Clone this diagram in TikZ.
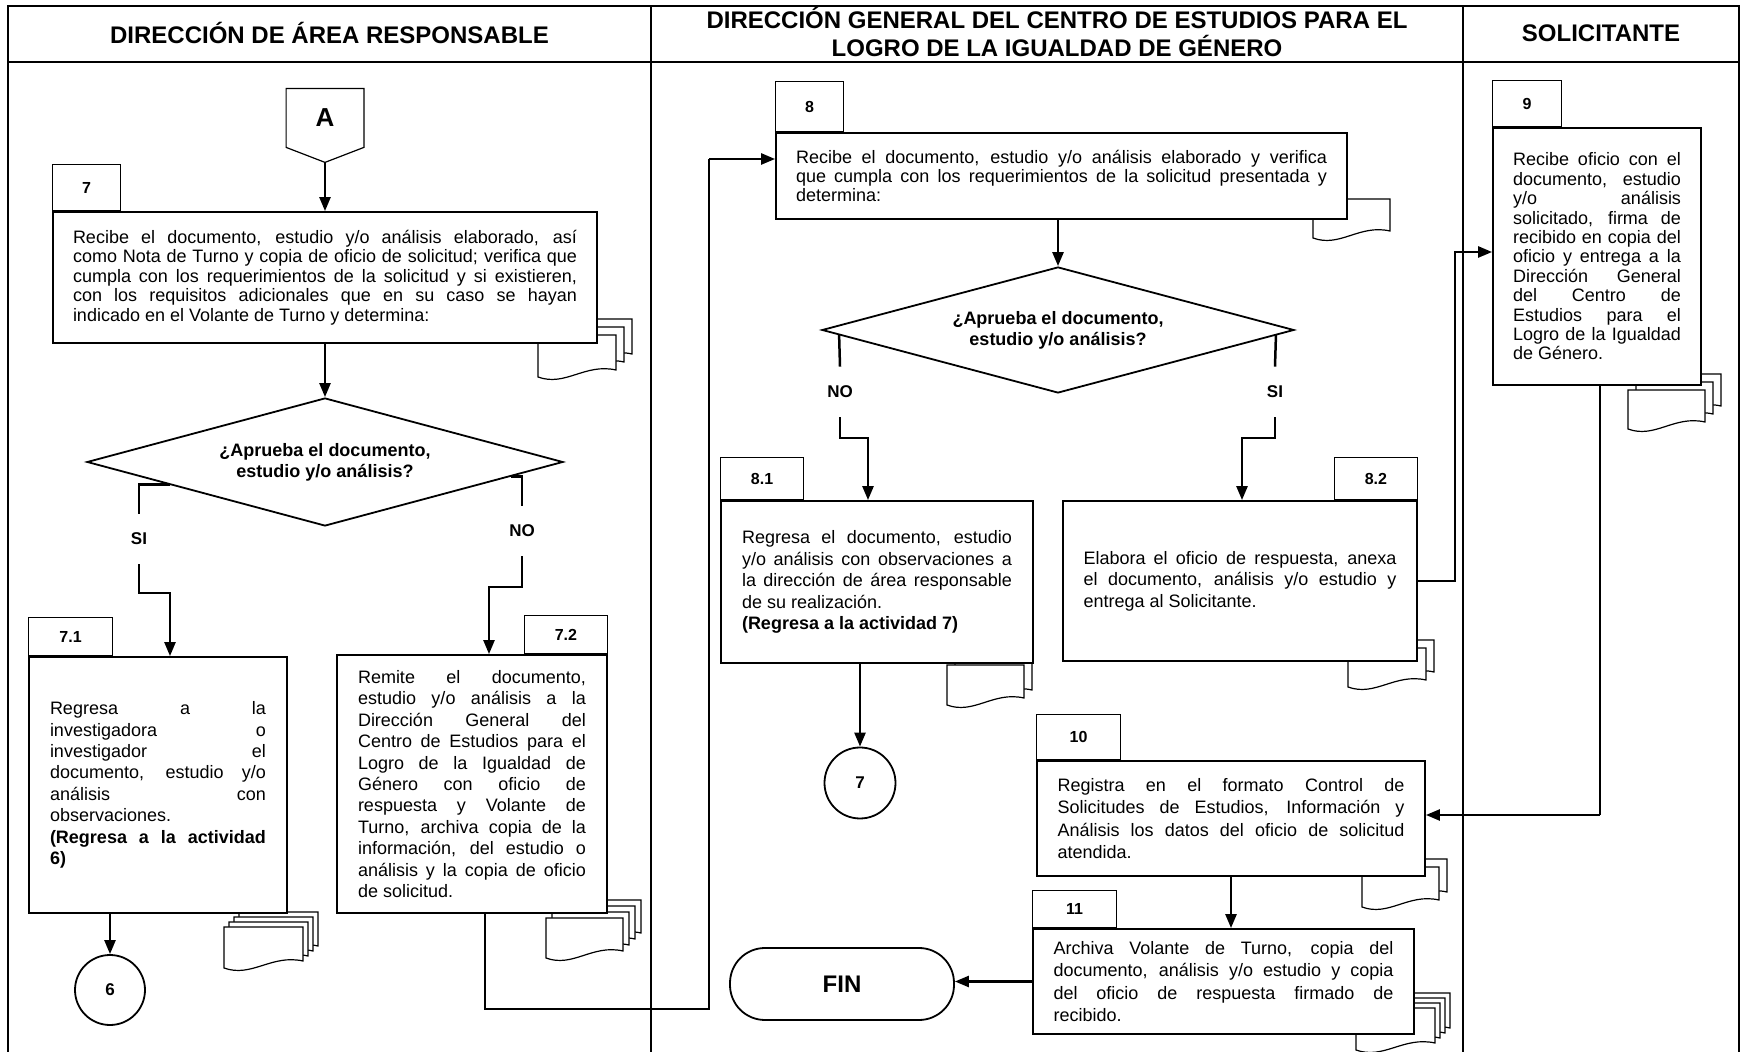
\documentclass[tikz,border=0pt]{standalone}
\usepackage{fontspec}
\setmainfont{Liberation Sans}
\usepackage{tikz}
\usetikzlibrary{shapes.geometric,arrows.meta,calc,positioning}
\setlength{\parindent}{0pt}
\tolerance=10000
\hbadness=10000
\hyphenpenalty=10000

\tikzstyle{line} = [draw, line width=1.25pt, -{Triangle[length=7pt,width=5.5pt]}]
\tikzstyle{wire} = [draw, line width=1.25pt]
\tikzstyle{thinwire} = [draw, line width=0.55pt]
\tikzstyle{block} = [draw, rectangle, fill=white, line width=0.9pt, align=justify, inner ysep=2pt]
\tikzstyle{bodytight} = [font=\fontsize{9}{9.7}\selectfont]
\tikzstyle{bodyloose} = [font=\fontsize{9}{10.7}\selectfont]
\tikzstyle{bodywide} = [font=\fontsize{9}{11.2}\selectfont]
\tikzstyle{tab} = [draw, rectangle, line width=0.5pt, inner sep=0pt, font=\bfseries\fontsize{8}{9}\selectfont]
\tikzstyle{decision} = [draw, diamond, fill=white, line width=0.9pt, aspect=3.7, inner sep=0pt, align=center, font=\bfseries\fontsize{9}{10.5}\selectfont]
\tikzstyle{answer} = [minimum height=25pt, inner sep=0pt, font=\bfseries\fontsize{8.5}{10}\selectfont]
\tikzstyle{connector} = [draw, circle, line width=0.9pt, minimum size=35pt, inner sep=0pt, font=\bfseries\fontsize{8.5}{10}\selectfont]
\tikzstyle{terminal} = [draw, rectangle, rounded corners=17.5pt, line width=0.9pt, minimum width=112pt, minimum height=36pt, font=\bfseries\fontsize{12}{14}\selectfont]
\tikzstyle{lanetitle} = [align=center, font=\bfseries\fontsize{12}{14}\selectfont]
\tikzstyle{sheet} = [draw, fill=white, line width=0.6pt]

% pila de documentos: x, y (hoja del frente), ancho, alto, hojas, desfase
\newcommand{\docstack}[6]{%
  \foreach \k in {#5,...,1}{%
    \pgfmathsetmacro{\sx}{#1+(\k-1)*#6}%
    \pgfmathsetmacro{\sy}{#2-(\k-1)*#6}%
    \draw[sheet] (\sx,\sy) -- (\sx+#3,\sy) -- (\sx+#3,\sy+#4-7)
      .. controls (\sx+0.6*#3,\sy+#4-14) and (\sx+0.35*#3,\sy+#4+10) .. (\sx,\sy+#4) -- cycle;
  }}

\begin{document}
\begin{tikzpicture}[x=0.5pt, y=-0.5pt]
    \useasboundingbox (0,0) rectangle (1741,1052);
    % marco y carriles
    \draw[line width=1pt] (8,1052) -- (8,6) -- (1739,6) -- (1739,1052);
    \draw[line width=1pt] (8,62) -- (1739,62);
    \draw[line width=1pt] (651,6) -- (651,1052);
    \draw[line width=1pt] (1463,6) -- (1463,1052);
    \node[lanetitle] (h1) at (329.5,33) {DIRECCIÓN DE ÁREA RESPONSABLE};
    \node[lanetitle] (h2) at (1057,32) {DIRECCIÓN GENERAL DEL CENTRO DE ESTUDIOS PARA EL\\LOGRO DE LA IGUALDAD DE GÉNERO};
    \node[lanetitle] (h3) at (1601,33) {SOLICITANTE};

    % documentos (detras de las cajas)
    \docstack{538}{335}{78}{42}{3}{8}
    \docstack{224}{927}{79}{41}{4}{5}
    \docstack{546}{918}{77}{40}{4}{6}
    \docstack{1313}{199}{77}{39}{1}{0}
    \docstack{1628}{390}{77}{39}{3}{8}
    \docstack{947}{665}{77}{40}{2}{8}
    \docstack{1348}{648}{78}{39}{2}{8}
    \docstack{1362}{867}{77}{40}{2}{8}
    \docstack{1356}{1008}{79}{42}{4}{5}

    % carril 1
    \node[minimum width=38.5pt, minimum height=29pt, inner sep=0pt, font=\bfseries\fontsize{13}{15}\selectfont] (A) at (325,118) {A};
    \draw[line width=0.6pt] (A.north west) -- (A.north east) -- (A.south east) -- ($(A.south)+(0,15)$) -- (A.south west) -- cycle;
    \coordinate (Atip) at ($(A.south)+(0,15)$);
    \node[block, bodytight, text width=252pt, inner xsep=10pt, minimum height=65.5pt] (b7) at (325,277.5) {Recibe el documento, estudio y/o análisis elaborado, así\linebreak como Nota de Turno y copia de oficio de solicitud; verifica que\linebreak cumpla con los requerimientos de la solicitud y si existieren,\linebreak con los requisitos adicionales que en su caso se hayan\linebreak indicado en el Volante de Turno y determina:};
    \node[tab, minimum width=34pt, minimum height=23pt, above right=0pt and 0pt of b7.north west] (t7) {7};
    \node[decision, minimum width=238pt, minimum height=64pt] (d1) at (325,462) {¿Aprueba el documento,\\estudio y/o análisis?};
    \node[answer] (si1) at (139,539) {SI};
    \node[answer] (no1) at (522,531) {NO};
    \node[block, bodyloose, text width=108pt, inner xsep=10.5pt, minimum height=128pt] (b71) at (158,785) {Regresa a la\linebreak investigadora o\linebreak investigador el\linebreak documento, estudio y/o\linebreak análisis con\linebreak observaciones.\par\textbf{(Regresa a la actividad\linebreak 6)}};
    \node[tab, minimum width=42pt, minimum height=19pt, above right=0pt and 0pt of b71.north west] (t71) {7.1};
    \node[block, bodyloose, text width=114pt, inner xsep=10.5pt, minimum height=129pt] (b72) at (472,784) {Remite el documento,\linebreak estudio y/o análisis a la\linebreak Dirección General del\linebreak Centro de Estudios para el\linebreak Logro de la Igualdad de\linebreak Género con oficio de\linebreak respuesta y Volante de\linebreak Turno, archiva copia de la\linebreak información, del estudio o\linebreak análisis y la copia de oficio\linebreak de solicitud.};
    \node[tab, minimum width=41.5pt, minimum height=19pt, above left=0pt and 0pt of b72.north east] (t72) {7.2};
    \node[connector] (c6) at (110,990) {6};

    % carril 2
    \node[block, bodytight, text width=265.5pt, inner xsep=10pt, minimum height=43pt] (b8) at (1061.5,176) {Recibe el documento, estudio y/o análisis elaborado y verifica\linebreak que cumpla con los requerimientos de la solicitud presentada y\linebreak determina:};
    \node[tab, minimum width=34pt, minimum height=25pt, above right=0pt and 0pt of b8.north west] (t8) {8};
    \node[decision, minimum width=236pt, minimum height=63pt] (d2) at (1058,330) {¿Aprueba el documento,\\estudio y/o análisis?};
    \node[answer] (no2) at (840,392) {NO};
    \node[answer] (si2) at (1275,392) {SI};
    \node[block, bodyloose, text width=135pt, inner xsep=10.5pt, minimum height=81pt] (b81) at (877,582) {Regresa el documento, estudio\linebreak y/o análisis con observaciones a\linebreak la dirección de área responsable\linebreak de su realización.\par\textbf{(Regresa a la actividad 7)}};
    \node[tab, minimum width=41.5pt, minimum height=21pt, above right=0pt and 0pt of b81.north west] (t81) {8.1};
    \node[block, bodyloose, text width=156.5pt, inner xsep=10.25pt, minimum height=80pt] (b82) at (1240,581) {Elabora el oficio de respuesta, anexa\linebreak el documento, análisis y/o estudio y\linebreak entrega al Solicitante.};
    \node[tab, minimum width=41.5pt, minimum height=21pt, above left=0pt and 0pt of b82.north east] (t82) {8.2};
    \node[connector, minimum size=35.5pt] (c7) at (860,783) {7};
    \node[block, bodywide, text width=173.5pt, inner xsep=10.25pt, minimum height=57.5pt] (b10) at (1231,818.5) {Registra en el formato Control de\linebreak Solicitudes de Estudios, Información y\linebreak Análisis los datos del oficio de solicitud\linebreak atendida.};
    \node[tab, minimum width=42pt, minimum height=22.5pt, above right=0pt and 0pt of b10.north west] (t10) {10};
    \node[block, bodywide, text width=170pt, inner xsep=10.25pt, minimum height=52.5pt] (b11) at (1223.5,981.5) {Archiva Volante de Turno, copia del\linebreak documento, análisis y/o estudio y copia\linebreak del oficio de respuesta firmado de\linebreak recibido.};
    \node[tab, minimum width=42pt, minimum height=18.5pt, above right=0pt and 0pt of b11.north west] (t11) {11};
    \node[terminal] (fin) at (842,984) {FIN};

    % carril 3
    \node[block, bodytight, text width=84pt, inner xsep=10pt, minimum height=128.5pt] (b9) at (1597,256.5) {Recibe oficio con el\linebreak documento, estudio\linebreak y/o análisis\linebreak solicitado, firma de\linebreak recibido en copia del\linebreak oficio y entrega a la\linebreak Dirección General\linebreak del Centro de\linebreak Estudios para el\linebreak Logro de la Igualdad\linebreak de Género.};
    \node[tab, minimum width=34.5pt, minimum height=23pt, above right=0pt and 0pt of b9.north west] (t9) {9};

    % conectores
    \coordinate (k1) at (170,593);
    \coordinate (k2) at (489,587);
    \coordinate (k3) at (485,1009);
    \coordinate (k4) at (709,1009);
    \coordinate (k5) at (709,159);
    \coordinate (k6) at (868,438);
    \coordinate (k7) at (1242,438);
    \coordinate (k8) at (1455,252);
    \coordinate (k9) at (1600,815);
    \path[line] (Atip) -- (Atip |- b7.north);
    \path[line] (b7.south) -- (d1.north);
    \path[wire] ($(d1.west)!0.35!(d1.south)$) -| (si1.north);
    \path[line] (si1.south) |- (k1) -- (k1 |- b71.north);
    \path[wire] ($(d1.east)!0.22!(d1.south)$) -| (no1.north);
    \path[line] (no1.south) |- (k2) -- (k2 |- b72.north);
    \path[line] (c6 |- b71.south) -- (c6.north);
    \path[thinwire] (k3 |- b72.south) -- (k3) -- (k4) -- (k5);
    \path[line] (k5) -- (k5 -| b8.west);
    \path[line] (b8.south -| d2.north) -- (d2.north);
    \path[wire] ($(d2.west)!0.076!(d2.south)$) -- (no2.north);
    \path[line] (no2.south) |- (k6) -- (k6 |- b81.north);
    \path[wire] ($(d2.east)!0.08!(d2.south)$) -- (si2.north);
    \path[line] (si2.south) |- (k7) -- (k7 |- b82.north);
    \path[line] (c7 |- b81.south) -- (c7.north);
    \path[line] (b82.east) -| (k8) -- (k8 -| b9.west);
    \path[thinwire] (k9 |- b9.south) -- (k9);
    \path[line] (k9) -- (k9 -| b10.east);
    \path[line] (b10.south) -- (b10.south |- b11.north);
    \path[line] (b11.west) -- (b11.west -| fin.east);
\end{tikzpicture}
\end{document}
